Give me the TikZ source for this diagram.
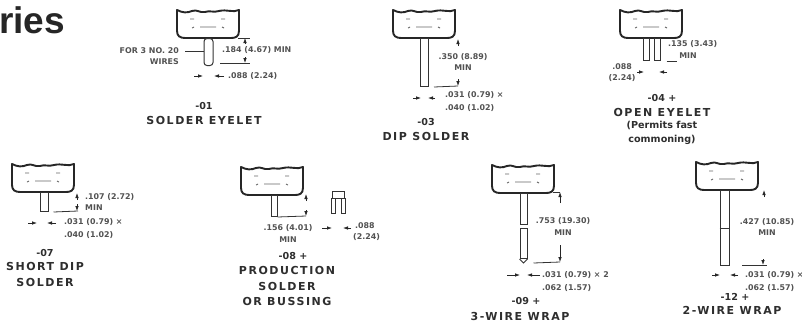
\documentclass[tikz,border=0pt]{standalone}
\usepackage{fontspec}
\setmainfont{Liberation Sans}
\newfontfamily\widefont{DejaVu Sans}
\newfontfamily\spacedfont[LetterSpace=14]{DejaVu Sans}
\usetikzlibrary{arrows.meta}
\tikzset{
  relay/.pic={
    \draw[line width=1.9pt,line join=round,black!85] (0,0) .. controls (6,3) and (10,3) .. (15,1) .. controls (20,-1) and (22,3) .. (28,2) .. controls (33,0) and (36,3) .. (42,1) .. controls (50,-1) and (56,3) .. (62,0) -- (62,21) .. controls (62,27) and (58,28) .. (54,28) -- (8,28) .. controls (3,28) and (0,26) .. (0,21) -- cycle;
    \draw[black!60,line width=.9pt] (23,17) -- (39,17) (13,9) -- (17,9) (44,9) -- (48,9) (15,18) -- (17,17) (45,17) -- (47,18);
  },
  pin/.style={draw=black!80,line width=1pt,fill=white,inner sep=0pt,minimum width=#1,anchor=north},
  dimline/.style={draw=black!80,line width=.8pt},
  dimarrow/.style={draw=black!85,line width=.8pt,-{Latex[length=5pt,width=3.6pt]}},
  small/.style={font=\widefont\fontsize{7.9}{9}\selectfont\bfseries,text=black!68,inner sep=0pt},
  smallL/.style={small,anchor=west},
  smallR/.style={small,anchor=east},
  title/.style={font=\widefont\fontsize{9.6}{12}\selectfont\bfseries,text=black!82,inner sep=0pt},
  captitle/.style={font=\spacedfont\fontsize{11}{12}\selectfont\bfseries,text=black!82,inner sep=0pt},
}
\begin{document}
\begin{tikzpicture}[x=1pt,y=-1pt]
\useasboundingbox[fill=white] (0,0) rectangle (802,322);
\node[anchor=base west,inner sep=0pt,font=\fontsize{37}{38}\selectfont\bfseries,text=black!85] (head) at (-1,33) {ries};

% -01
\pic at (177,10) {relay};
\node[pin=9pt,minimum height=27pt,rounded corners=3pt] (p1) at (208.5,38) {};
\node[smallR] (t1a) at (179,51) {FOR 3 NO. 20};
\node[smallR] (t1b) at (179,62) {WIRES};
\draw[dimline] (t1a.east)++(6,0) -- (p1.west |- t1a);
\node[smallL] (t1c) at (222,50) {.184 (4.67) MIN};
\node[smallL] (t1d) at (228,76) {.088 (2.24)};
\draw[dimarrow] (245,44) -- (245,38); \draw[dimarrow] (245,57) -- (245,63);
\draw[dimline] (238,38) -- (250,38) (220,63) -- (250,63);
\draw[dimarrow] (194,76) -- (203,76); \draw[dimarrow] (224,76) -- (214,76);
\node[title] (l1a) at (204,106) {-01};
\node[captitle] (l1b) at (204,120) {SOLDER EYELET};

% -03
\pic at (393,10) {relay};
\node[pin=8pt,minimum height=48pt] (p3) at (424.5,38) {};
\draw[dimline] (p3.south east)++(5,0) -- (458,86);
\draw[dimarrow] (458,79) -- (458,86); \draw[dimarrow] (458,46) -- (458,39);
\node[small] (t3a) at (463,57) {.350 (8.89)};
\node[small] (t3b) at (463,68) {MIN};
\draw[dimarrow] (413,98) -- (421,98); \draw[dimarrow] (435,98) -- (428,98);
\node[smallL] (t3c) at (445,95) {.031 (0.79) ×};
\node[smallL] (t3d) at (445,108) {.040 (1.02)};
\node[title] (l3a) at (426,122) {-03};
\node[captitle] (l3b) at (426,136) {DIP SOLDER};

% -04
\pic at (620,10) {relay};
\node[pin=6pt,minimum height=22pt] (p4a) at (646,38) {};
\node[pin=6pt,minimum height=22pt] (p4b) at (657,38) {};
\node[smallL] (t4a) at (668,44) {.135 (3.43)};
\node[small] (t4b) at (688,56) {MIN};
\draw[dimline] (p4b.south east)++(6,0) -- ++(10,0);
\node[small] (t4c) at (622,67) {.088};
\node[small] (t4d) at (622,78) {(2.24)};
\draw[dimarrow] (637,72) -- (644,72); \draw[dimarrow] (667,72) -- (659,72);
\node[title] (l4a) at (662,98) {-04 +};
\node[captitle] (l4b) at (662,112) {OPEN EYELET};
\node[title] (l4c) at (662,125) {(Permits fast};
\node[title] (l4d) at (662,140) {commoning)};

% -07
\pic at (12,164) {relay};
\node[pin=8pt,minimum height=19pt] (p7) at (44,192) {};
\draw[dimline] (p7.south east)++(5,0) -- (78,211);
\draw[dimarrow] (77,204) -- (77,211); \draw[dimarrow] (77,200) -- (77,193);
\node[smallL] (t7a) at (85,197) {.107 (2.72)};
\node[smallL] (t7b) at (85,208) {MIN};
\draw[dimarrow] (28,223) -- (37,223); \draw[dimarrow] (56,223) -- (47,223);
\node[smallL] (t7c) at (64,222) {.031 (0.79) ×};
\node[smallL] (t7d) at (64,235) {.040 (1.02)};
\node[title] (l7a) at (45,253) {-07};
\node[captitle] (l7b) at (45,266) {SHORT DIP};
\node[captitle] (l7c) at (45,282) {SOLDER};

% -08
\pic at (241,167) {relay};
\node[pin=6pt,minimum height=21pt] (p8) at (274,195) {};
\draw[dimline] (p8.south east) -- (306,216);
\draw[dimarrow] (306,210) -- (306,216);
\draw[dimarrow] (306,201) -- (306,194);
\node[small] (t8a) at (288,228) {.156 (4.01)};
\node[small] (t8b) at (288,240) {MIN};
\node[pin=12pt,minimum height=7pt] (c8) at (338,191) {};
\node[pin=4pt,minimum height=15pt] (c8a) at (333,198) {};
\node[pin=4pt,minimum height=15pt] (c8b) at (343,198) {};
\draw[dimarrow] (322,228) -- (332,228); \draw[dimarrow] (351,228) -- (343,228);
\node[smallL] (t8c) at (355,226) {.088};
\node[smallL] (t8d) at (353,237) {(2.24)};
\node[title] (l8a) at (293,256) {-08 +};
\node[captitle] (l8b) at (287,270) {PRODUCTION};
\node[captitle] (l8c) at (287,286) {SOLDER};
\node[captitle] (l8d) at (287,301) {OR BUSSING};

% -09
\pic at (492,165) {relay};
\node[pin=7pt,minimum height=31pt] (p9a) at (523.5,193) {};
\node[pin=7pt,minimum height=30pt] (p9b) at (523.5,228) {};
\draw[draw=black!80,line width=1pt] (p9b.south west) -- (523.5,263) -- (p9b.south east);
\draw[dimline] (p9b.south east)++(6,4) -- (560,262);
\draw[dimarrow] (560,245) -- (560,262); \draw[dimarrow] (560,203) -- (560,192);
\draw[dimline] (553,192) -- (560,192);
\node[small] (t9a) at (563,221) {.753 (19.30)};
\node[small] (t9b) at (563,233) {MIN};
\draw[dimarrow] (507,275) -- (520,275); \draw[dimarrow] (540,275) -- (527,275);
\node[smallL] (t9c) at (542,275) {.031 (0.79) × 2};
\node[smallL] (t9d) at (542,288) {.062 (1.57)};
\node[title] (l9a) at (526,301) {-09 +};
\node[captitle] (l9b) at (520,316) {3-WIRE WRAP};

% -12
\pic at (696,162) {relay};
\node[pin=9pt,minimum height=75pt] (p12) at (724.5,190) {};
\draw[dimline] (p12.north west |- 0,228) -- (p12.north east |- 0,228);
\draw[dimline] (742,265) -- (767,265);
\draw[dimarrow] (763,259) -- (763,265); \draw[dimarrow] (764,197) -- (764,190);
\node[small] (t12a) at (767,222) {.427 (10.85)};
\node[small] (t12b) at (767,233) {MIN};
\draw[dimarrow] (712,275) -- (720,275); \draw[dimarrow] (738,275) -- (730,275);
\node[smallL] (t12c) at (745,275) {.031 (0.79) ×};
\node[smallL] (t12d) at (745,288) {.062 (1.57)};
\node[title] (l12a) at (735,297) {-12 +};
\node[captitle] (l12b) at (732,310) {2-WIRE WRAP};
\end{tikzpicture}
\end{document}
